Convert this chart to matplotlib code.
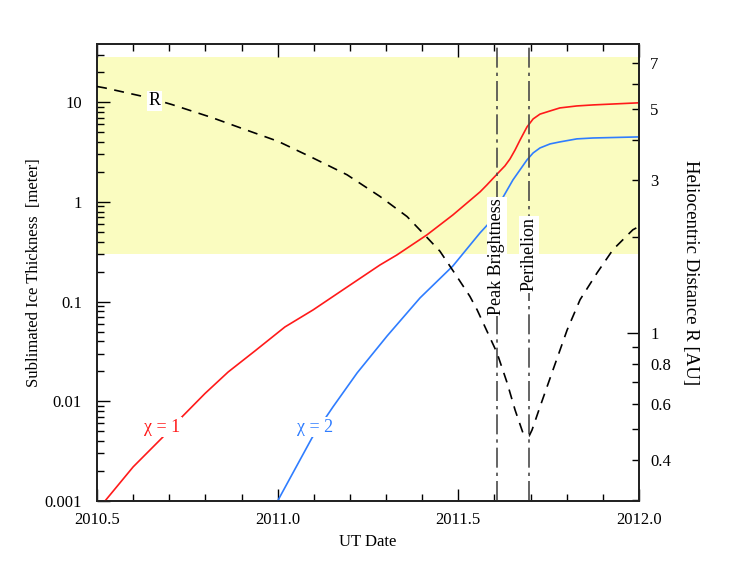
import matplotlib
matplotlib.use("Agg")
import matplotlib.pyplot as plt
import matplotlib.transforms as mtransforms

plt.rcParams['font.family'] = ['Liberation Serif', 'DejaVu Serif']
plt.rcParams['font.size'] = 12

# sublimated ice thickness, chi = 1 (red)
t_chi1 = [2010.522, 2010.600, 2010.680, 2010.735, 2010.799, 2010.863, 2010.937,
          2011.020, 2011.098, 2011.192, 2011.283, 2011.330, 2011.413, 2011.485,
          2011.560, 2011.579, 2011.610, 2011.629, 2011.643, 2011.657, 2011.671,
          2011.690, 2011.707, 2011.726, 2011.754, 2011.781, 2011.828, 2011.873,
          2012.0]
ice_chi1 = [0.001, 0.0022, 0.0043, 0.00698, 0.0120, 0.0197, 0.032,
            0.0557, 0.0826, 0.140, 0.233, 0.294, 0.467, 0.741,
            1.26, 1.48, 1.95, 2.30, 2.70, 3.32, 4.19,
            5.65, 6.80, 7.60, 8.18, 8.77, 9.18, 9.40,
            9.87]

# sublimated ice thickness, chi = 2 (blue)
t_chi2 = [2011.000, 2011.006, 2011.095, 2011.153, 2011.220, 2011.303, 2011.394,
          2011.485, 2011.560, 2011.588, 2011.624, 2011.651, 2011.690, 2011.707,
          2011.726, 2011.754, 2011.781, 2011.828, 2011.873, 2012.0]
ice_chi2 = [0.001, 0.0011, 0.0043, 0.00879, 0.0193, 0.0453, 0.109,
            0.228, 0.489, 0.63, 1.12, 1.66, 2.64, 3.10,
            3.48, 3.82, 4.0, 4.29, 4.38, 4.49]

# heliocentric distance (dashed, right axis)
t_R = [2010.5, 2010.522, 2010.641, 2010.708, 2010.818, 2010.910, 2011.001,
       2011.098, 2011.192, 2011.283, 2011.358, 2011.402, 2011.449, 2011.496,
       2011.532, 2011.552, 2011.607, 2011.635, 2011.657, 2011.679, 2011.696,
       2011.704, 2011.726, 2011.762, 2011.801, 2011.837, 2011.884, 2011.928,
       2011.983, 2012.0]
R_au = [5.89, 5.83, 5.44, 5.17, 4.71, 4.32, 3.97,
        3.52, 3.12, 2.67, 2.31, 2.05, 1.80, 1.50,
        1.30, 1.18, 0.866, 0.698, 0.574, 0.486, 0.476,
        0.497, 0.587, 0.766, 1.02, 1.27, 1.54, 1.82,
        2.10, 2.15]

t_peak = 2011.607
t_perihelion = 2011.696
band = (0.3, 28.3)

fig = plt.figure(figsize=(7.47, 5.78), dpi=100)
ax = fig.add_axes([0.1299, 0.1332, 0.7255, 0.7907])

ax.axhspan(band[0], band[1], color='#fafcc0', lw=0, zorder=0)
ax.plot(t_chi1, ice_chi1, color='#ff1a1a', lw=1.2, zorder=3)
ax.plot(t_chi2, ice_chi2, color='#2f7dff', lw=1.2, zorder=3)

ax.set_yscale('log')
ax.set_xlim(2010.5, 2012.0)
ax.set_ylim(0.001, 38.4)
ax.set_xticks([2010.5, 2011.0, 2011.5, 2012.0], ['2010.5', '2011.0', '2011.5', '2012.0'])
ax.set_xticks([2010.5 + 0.1 * i for i in range(16)], minor=True)
ax.set_yticks([0.001, 0.01, 0.1, 1, 10], ['0.001', '0.01', '0.1', '1', '10'])
ax.tick_params(which='major', direction='in', length=9, width=1, top=True, right=False)
ax.tick_params(which='minor', direction='in', length=5, width=1, top=True, right=False)
ax.tick_params(axis='x', which='major', pad=8)
ax.tick_params(axis='y', which='major', pad=11)
ax.set_xlabel('UT Date', labelpad=4)
ax.set_ylabel('Sublimated Ice Thickness  [meter]', labelpad=2)

for x in (t_peak, t_perihelion):
    ax.axvline(x, color='#4a4a4a', lw=1.2, linestyle=(0, (12, 3, 2, 3)), zorder=4)

trans = mtransforms.blended_transform_factory(ax.transData, ax.transAxes)
ax.text(t_peak, 0.535, 'Peak Brightness', rotation=90, ha='center', va='center',
        transform=trans, zorder=6, fontsize=13,
        bbox=dict(facecolor='white', edgecolor='none', pad=1))
ax.text(t_perihelion, 0.54, 'Perihelion', rotation=90, ha='center', va='center',
        transform=trans, zorder=6, fontsize=13,
        bbox=dict(facecolor='white', edgecolor='none', pad=1))

ax.text(2010.680, 0.0055, 'χ = 1', color='#ff1a1a', ha='center', va='center', zorder=6,
        fontsize=13, bbox=dict(facecolor='white', edgecolor='none', pad=1))
ax.text(2011.103, 0.0055, 'χ = 2', color='#2f7dff', ha='center', va='center', zorder=6,
        fontsize=13, bbox=dict(facecolor='white', edgecolor='none', pad=1))

ax2 = ax.twinx()
ax2.plot(t_R, R_au, color='black', lw=1.2, dashes=(6, 4.5), zorder=3)
ax2.set_yscale('log')
ax2.set_ylim(0.298, 8.0)
ax2.set_yticks([1], ['1'])
ax2.set_yticks([0.3, 0.4, 0.5, 0.6, 0.7, 0.8, 0.9, 2, 3, 4, 5, 6, 7],
               ['', '0.4', '', '0.6', '', '0.8', '', '', '3', '', '5', '', '7'], minor=True)
ax2.tick_params(which='major', direction='in', length=9, width=1, pad=8)
ax2.tick_params(which='minor', direction='in', length=5, width=1, pad=8)
ax2.set_ylabel('Heliocentric Distance R [AU]', rotation=-90, labelpad=20, fontsize=13.5)
ax2.text(2010.660, 5.32, 'R', ha='center', va='center', zorder=6, fontsize=13,
         bbox=dict(facecolor='white', edgecolor='none', pad=1))

for a in (ax, ax2):
    for s in a.spines.values():
        s.set_linewidth(1.3)
        s.set_color('#222222')

fig.savefig('out.png', dpi=100)
